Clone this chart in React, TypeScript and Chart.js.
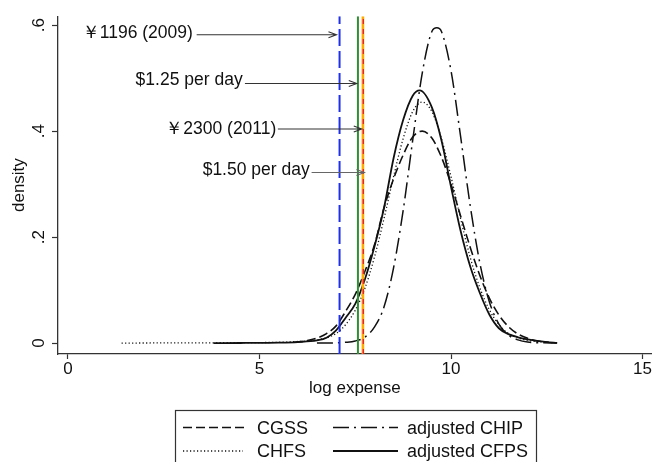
import { useEffect, useRef } from "react";
import { Chart, registerables } from "chart.js";

Chart.register(...registerables);

const FONT = '"Liberation Sans", Arial, Helvetica, sans-serif';

// ---------- data ----------
const seriesNames = ["CGSS", "CHFS", "adjusted CHIP", "adjusted CFPS"];

const cgssX = [5.9, 6.25, 6.5, 6.75, 7, 7.25, 7.5, 7.75, 8, 8.25, 8.5, 8.75, 9, 9.25, 9.5, 9.75, 10, 10.25, 10.5, 10.75, 11, 11.25, 11.5, 11.75, 12, 12.25, 12.55];
const cgssY = [0.0015, 0.0046, 0.0094, 0.018, 0.0325, 0.06, 0.092, 0.135, 0.185, 0.255, 0.31, 0.355, 0.389, 0.4, 0.387, 0.351, 0.3, 0.24, 0.181, 0.128, 0.085, 0.053, 0.031, 0.017, 0.009, 0.004, 0.0015];

const chfsX = [1.4, 2.5, 3.5, 4.5, 5.5, 6, 6.5, 6.75, 7, 7.25, 7.5, 7.75, 8, 8.25, 8.5, 8.75, 9, 9.25, 9.5, 9.75, 10, 10.25, 10.5, 10.75, 11, 11.25, 11.5, 11.75, 12, 12.25, 12.5, 12.77];
const chfsY = [0, 0.0003, 0.0005, 0.0008, 0.0015, 0.003, 0.006, 0.01, 0.018, 0.035, 0.062, 0.103, 0.162, 0.235, 0.314, 0.386, 0.437, 0.455, 0.437, 0.386, 0.314, 0.235, 0.162, 0.105, 0.063, 0.035, 0.018, 0.01, 0.005, 0.003, 0.0015, 0.0005];

const chipX = [6.5, 7, 7.25, 7.5, 7.75, 8, 8.25, 8.5, 8.75, 9, 9.25, 9.5, 9.63, 9.75, 10, 10.25, 10.5, 10.75, 11, 11.25, 11.5, 11.75, 12, 12.4, 12.77];
const chipY = [0, 0.0005, 0.0015, 0.004, 0.011, 0.03, 0.068, 0.142, 0.25, 0.383, 0.51, 0.588, 0.595, 0.588, 0.514, 0.39, 0.26, 0.152, 0.078, 0.036, 0.015, 0.006, 0.002, 0.0005, 0];

const cfpsX = [3.8, 4.5, 5, 5.5, 6, 6.5, 6.75, 7, 7.25, 7.5, 7.75, 8, 8.25, 8.5, 8.75, 9, 9.18, 9.5, 9.75, 10, 10.25, 10.5, 10.75, 11, 11.25, 11.5, 11.75, 12, 12.25, 12.5, 12.77];
const cfpsY = [0, 0.0002, 0.0004, 0.0008, 0.002, 0.005, 0.01, 0.024, 0.048, 0.074, 0.12, 0.182, 0.255, 0.349, 0.421, 0.467, 0.477, 0.445, 0.383, 0.295, 0.212, 0.145, 0.095, 0.054, 0.028, 0.017, 0.011, 0.007, 0.004, 0.002, 0.0005];

// poverty lines (log expense)
const thresholdValues = [7.09, 7.57, 7.7, 7.71];
const annotationLabels = ["\uFFE51196 (2009)", "$1.25 per day", "\uFFE52300 (2011)", "$1.50 per day"];

const xTicks = [0, 5, 10, 15];
const yTicks = [0, 0.2, 0.4, 0.6];

// ---------- layout / style ----------
const X_MIN = -0.26;
const X_MAX = 15.24;
const Y_MIN = -0.0206;
const Y_MAX = 0.617;

const thresholdStyles = [
  { color: "#1f2ff0", width: 2, dash: [17, 5] },
  { color: "#2f8f35", width: 2, dash: [] as number[] },
  { color: "#ffab00", width: 2.6, dash: [] as number[] },
  { color: "#e8203a", width: 1.4, dash: [5, 5] },
];

const seriesStyles = [
  { dash: [9, 4], width: 1.6 },
  { dash: [1.2, 2.3], width: 1.3 },
  { dash: [16, 5, 2, 5], width: 1.5 },
  { dash: [] as number[], width: 1.8 },
];

// annotation geometry in data units: text right end, text baseline, arrow start, arrow y, arrow tip
const annotationGeom = [
  { textX: 3.26, textY: 0.5757, lineX: 3.36, lineY: 0.582, tipX: 7.01, color: "#333" },
  { textX: 4.56, textY: 0.487, lineX: 4.62, lineY: 0.49, tipX: 7.54, color: "#333" },
  { textX: 5.44, textY: 0.394, lineX: 5.48, lineY: 0.404, tipX: 7.67, color: "#333" },
  { textX: 6.31, textY: 0.317, lineX: 6.36, lineY: 0.322, tipX: 7.74, color: "#666" },
];

const overlayPlugin = {
  id: "overlay",
  afterDatasetsDraw(chart: any) {
    const { ctx } = chart;
    const xs = chart.scales.x;
    const ys = chart.scales.y;
    ctx.save();
    ctx.font = `17.5px ${FONT}`;
    ctx.textAlign = "right";
    ctx.textBaseline = "alphabetic";
    annotationLabels.forEach((label, i) => {
      const g = annotationGeom[i];
      ctx.fillStyle = "#111";
      ctx.fillText(label, xs.getPixelForValue(g.textX), ys.getPixelForValue(g.textY));
      const x0 = xs.getPixelForValue(g.lineX);
      const x1 = xs.getPixelForValue(g.tipX);
      const yy = ys.getPixelForValue(g.lineY);
      ctx.strokeStyle = g.color;
      ctx.lineWidth = 1.1;
      ctx.setLineDash([]);
      ctx.beginPath();
      ctx.moveTo(x0, yy);
      ctx.lineTo(x1, yy);
      ctx.moveTo(x1 - 8, yy - 3);
      ctx.lineTo(x1, yy);
      ctx.lineTo(x1 - 8, yy + 3);
      ctx.stroke();
    });
    ctx.restore();
  },
  afterDraw(chart: any) {
    const { ctx } = chart;
    ctx.save();
    ctx.strokeStyle = "#333";
    ctx.lineWidth = 1.2;
    ctx.setLineDash([]);
    ctx.strokeRect(175.5, 410.5, 361, 70);
    const cells = [
      { sx0: 183, sx1: 248, tx: 257, y: 427.5 },
      { sx0: 183, sx1: 243, tx: 257, y: 451 },
      { sx0: 333, sx1: 398, tx: 407, y: 427.5 },
      { sx0: 333, sx1: 398, tx: 407, y: 451 },
    ];
    ctx.font = `18px ${FONT}`;
    ctx.textAlign = "left";
    ctx.textBaseline = "alphabetic";
    seriesNames.forEach((name, i) => {
      const c = cells[i];
      const st = seriesStyles[i];
      ctx.strokeStyle = "#111";
      ctx.lineWidth = st.width;
      ctx.setLineDash(st.dash);
      ctx.beginPath();
      ctx.moveTo(c.sx0, c.y);
      ctx.lineTo(c.sx1, c.y);
      ctx.stroke();
      ctx.setLineDash([]);
      ctx.fillStyle = "#111";
      ctx.fillText(name, c.tx, c.y + 6.3);
    });
    ctx.restore();
  },
};

export default function App() {
  const ref = useRef<HTMLCanvasElement>(null);

  useEffect(() => {
    const canvas = ref.current;
    if (!canvas) return;
    const pts = (xs: number[], ys: number[]) => xs.map((x, i) => ({ x, y: ys[i] }));
    const vline = (v: number) => [
      { x: v, y: Y_MIN },
      { x: v, y: Y_MAX },
    ];

    const thresholdSets = thresholdValues
      .map((v, i) => ({
        label: "line" + i,
        data: vline(v),
        borderColor: thresholdStyles[i].color,
        borderWidth: thresholdStyles[i].width,
        borderDash: thresholdStyles[i].dash,
        pointRadius: 0,
        fill: false,
        tension: 0,
      }))
      .reverse();

    const seriesData = [pts(cgssX, cgssY), pts(chfsX, chfsY), pts(chipX, chipY), pts(cfpsX, cfpsY)];
    const curveSets = seriesNames.map((name, i) => ({
      label: name,
      data: seriesData[i],
      borderColor: "#111",
      borderWidth: seriesStyles[i].width,
      borderDash: seriesStyles[i].dash,
      pointRadius: 0,
      fill: false,
      cubicInterpolationMode: "monotone" as const,
    }));

    const chart = new Chart(canvas, {
      type: "line",
      data: { datasets: [...thresholdSets, ...curveSets] as any },
      options: {
        animation: false,
        responsive: false,
        maintainAspectRatio: false,
        parsing: false as any,
        normalized: true,
        layout: { padding: { top: 13, right: 0, left: 0, bottom: 0 } },
        plugins: {
          legend: { display: false },
          tooltip: { enabled: false },
        },
        scales: {
          x: {
            type: "linear",
            min: X_MIN,
            max: X_MAX,
            afterBuildTicks: (s: any) => {
              s.ticks = xTicks.map((v) => ({ value: v }));
            },
            afterFit: (s: any) => {
              s.height = 108;
            },
            ticks: {
              autoSkip: false,
              maxRotation: 0,
              minRotation: 0,
              padding: 0,
              color: "#111",
              font: { family: FONT, size: 17 },
              callback: (v: any) => String(v),
            },
            grid: {
              display: true,
              drawOnChartArea: false,
              drawTicks: true,
              tickLength: 5,
              tickColor: "#333",
              tickWidth: 1.2,
            },
            border: { display: true, color: "#333", width: 1.3 },
            title: {
              display: true,
              text: "log expense",
              color: "#111",
              font: { family: FONT, size: 17 },
              padding: { top: 0, bottom: 63 },
            },
          },
          y: {
            type: "linear",
            min: Y_MIN,
            max: Y_MAX,
            afterBuildTicks: (s: any) => {
              s.ticks = yTicks.map((v) => ({ value: v }));
            },
            afterFit: (s: any) => {
              s.width = 58;
            },
            ticks: {
              autoSkip: false,
              minRotation: 90,
              maxRotation: 90,
              crossAlign: "center",
              padding: 6,
              color: "#111",
              font: { family: FONT, size: 17 },
              callback: (v: any) => (v === 0 ? "0" : String(v).replace(/^0/, "")),
            },
            grid: {
              display: true,
              drawOnChartArea: false,
              drawTicks: true,
              tickLength: 6,
              tickColor: "#333",
              tickWidth: 1.2,
            },
            border: { display: true, color: "#333", width: 1.3 },
            title: {
              display: true,
              text: "density",
              color: "#111",
              font: { family: FONT, size: 17 },
              padding: { top: 9, bottom: 0 },
            },
          },
        },
      },
      plugins: [overlayPlugin],
    });
    return () => chart.destroy();
  }, []);

  return (
    <div style={{ position: "absolute", left: 0, top: 0, width: 652, height: 462, background: "#fff" }}>
      <canvas ref={ref} width={652} height={462} style={{ display: "block", width: 652, height: 462 }} />
    </div>
  );
}
